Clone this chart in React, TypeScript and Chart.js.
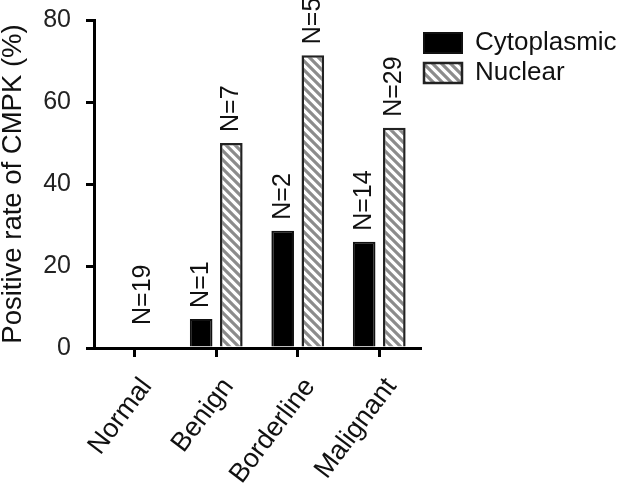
import React, { useEffect, useRef } from "react";
import { Chart, registerables } from "chart.js";

Chart.register(...registerables);

const categories = ["Normal", "Benign", "Borderline", "Malignant"];
const cytoplasmic = [0, 7.1, 28.6, 25.9];
const nuclear = [0, 50, 71.4, 53.7];
const cytoLabels = ["", "N=1", "N=2", "N=14"];
const nuclearLabels = ["", "N=7", "N=5", "N=29"];
const groupLabels = ["N=19", "", "", ""];
const yTicks = [0, 20, 40, 60, 80];

const FONT = "'Liberation Sans', Arial, sans-serif";
const LEGEND_WIDTH = 205;

function makeHatch(): CanvasPattern | string {
  const size = 9;
  const c = document.createElement("canvas");
  c.width = size;
  c.height = size;
  const ctx = c.getContext("2d");
  if (!ctx) return "#aaa";
  ctx.fillStyle = "#ffffff";
  ctx.fillRect(0, 0, size, size);
  ctx.strokeStyle = "#8c8c8c";
  ctx.lineWidth = 3.2;
  ctx.lineCap = "square";
  for (const off of [-size, 0, size]) {
    ctx.beginPath();
    ctx.moveTo(off - 2, -2);
    ctx.lineTo(off + size + 2, size + 2);
    ctx.stroke();
  }
  const p = ctx.createPattern(c, "repeat");
  return p || "#aaa";
}

const legendWidthPlugin = {
  id: "legendWidth",
  beforeLayout(chart: any) {
    const lg = chart.legend;
    if (lg && !lg._widthPatched) {
      const orig = lg.fit.bind(lg);
      lg.fit = function () {
        orig();
        this.width = LEGEND_WIDTH;
      };
      lg._widthPatched = true;
    }
  },
};

const labelPlugin = {
  id: "nLabels",
  afterDatasetsDraw(chart: any) {
    const ctx = chart.ctx;
    ctx.save();
    ctx.fillStyle = "#111";
    ctx.font = `25px ${FONT}`;
    ctx.textAlign = "left";
    ctx.textBaseline = "middle";
    const sets = [cytoLabels, nuclearLabels];
    sets.forEach((labels, di) => {
      const meta = chart.getDatasetMeta(di);
      meta.data.forEach((el: any, i: number) => {
        const t = labels[i];
        if (!t) return;
        ctx.save();
        ctx.translate(el.x, el.y - 11);
        ctx.rotate(-Math.PI / 2);
        ctx.fillText(t, 0, 0);
        ctx.restore();
      });
    });
    const xs = chart.scales.x;
    const ys = chart.scales.y;
    groupLabels.forEach((t, i) => {
      if (!t) return;
      ctx.save();
      ctx.translate(xs.getPixelForValue(i) + 8, ys.getPixelForValue(0) - 23);
      ctx.rotate(-Math.PI / 2);
      ctx.fillText(t, 0, 0);
      ctx.restore();
    });
    ctx.restore();
  },
};

export default function App() {
  const ref = useRef<HTMLCanvasElement | null>(null);
  useEffect(() => {
    document.body.style.margin = "0";
    if (!ref.current) return;
    const hatch = makeHatch();
    const chart = new Chart(ref.current, {
      type: "bar",
      data: {
        labels: categories,
        datasets: [
          {
            label: "Cytoplasmic",
            data: cytoplasmic,
            backgroundColor: "#000000",
            borderColor: "#111111",
            borderWidth: 2,
            categoryPercentage: 0.74,
            barPercentage: 0.75,
          },
          {
            label: "Nuclear",
            data: nuclear,
            backgroundColor: hatch as any,
            borderColor: "#222222",
            borderWidth: 2.5,
            categoryPercentage: 0.74,
            barPercentage: 0.75,
          },
        ],
      },
      options: {
        animation: false,
        responsive: false,
        devicePixelRatio: 1,
        layout: { padding: { top: 20, left: 0, right: 0, bottom: 0 } },
        plugins: {
          legend: {
            position: "right",
            align: "start",
            title: {
              display: true,
              text: "",
              padding: 0,
              font: { size: 6, lineHeight: 1 },
            },
            labels: {
              boxWidth: 38,
              boxHeight: 20,
              padding: 4,
              color: "#111",
              font: { family: FONT, size: 26 },
            },
          },
          tooltip: { enabled: false },
        },
        scales: {
          x: {
            offset: true,
            grid: {
              offset: false,
              drawOnChartArea: false,
              drawTicks: true,
              tickLength: 9,
              color: "#000",
              lineWidth: 3,
            },
            border: { display: true, color: "#000", width: 3 },
            ticks: {
              autoSkip: false,
              minRotation: 53,
              maxRotation: 53,
              color: "#111",
              padding: 15,
              labelOffset: 12,
              font: { family: FONT, size: 27 },
            },
            afterFit: (scale: any) => {
              scale.height = 139;
            },
          },
          y: {
            min: 0,
            max: 80,
            afterBuildTicks: (scale: any) => {
              scale.ticks = yTicks.map((v) => ({ value: v }));
            },
            grid: {
              drawOnChartArea: false,
              drawTicks: true,
              tickLength: 8,
              color: "#000",
              lineWidth: 3,
            },
            border: { display: true, color: "#000", width: 3 },
            ticks: {
              color: "#222",
              padding: 15,
              font: { family: FONT, size: 25 },
            },
            title: {
              display: true,
              text: "Positive rate of CMPK (%)",
              color: "#111",
              padding: 0,
              font: { family: FONT, size: 27.5, lineHeight: 1 },
            },
            afterFit: (scale: any) => {
              scale.width = 94;
              scale.paddingTop = 0;
              scale.paddingBottom = 0;
            },
          },
        },
      },
      plugins: [legendWidthPlugin, labelPlugin],
    });
    return () => chart.destroy();
  }, []);
  return (
    <div style={{ width: 625, height: 487 }}>
      <canvas ref={ref} width={625} height={487} style={{ width: 625, height: 487, display: "block" }} />
    </div>
  );
}
